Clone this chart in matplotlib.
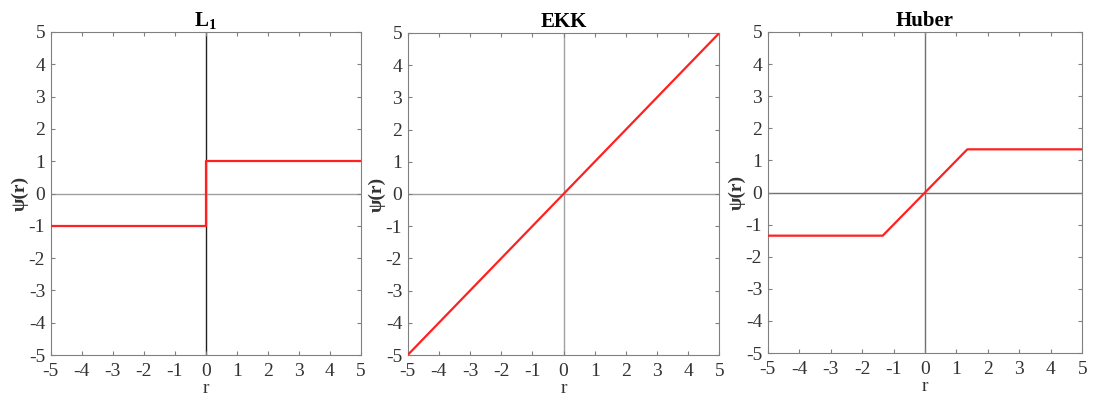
import numpy as np
import matplotlib.pyplot as plt

plt.rcParams['font.family'] = 'Liberation Serif'
plt.rcParams['mathtext.fontset'] = 'custom'
plt.rcParams['mathtext.rm'] = 'Liberation Serif'
plt.rcParams['mathtext.bf'] = 'Liberation Serif:bold'
plt.rcParams['axes.unicode_minus'] = False

# psi functions sampled at their break points
r_l1 = [-5, 0, 0, 5]
psi_l1 = [-1, -1, 1, 1]

r_ekk = [-5, 5]
psi_ekk = [-5, 5]

r_huber = [-5, -1.345, 1.345, 5]
psi_huber = [-1.345, -1.345, 1.345, 1.345]

titles = [r'$\mathbf{L_1}$', 'EKK', 'Huber']
series = [(r_l1, psi_l1), (r_ekk, psi_ekk), (r_huber, psi_huber)]
ticks = list(range(-5, 6))

# axes rectangles [left, bottom, width, height]
rects = [[0.0463, 0.1125, 0.2828, 0.8075],
         [0.372, 0.1125, 0.2843, 0.805],
         [0.7005, 0.1175, 0.287, 0.8025]]
zero_colors = [('#202020', '#a0a0a0'), ('#a0a0a0', '#a0a0a0'), ('#707070', '#707070')]

fig = plt.figure(figsize=(10.96, 4), dpi=100)
for i in range(3):
    ax = fig.add_axes(rects[i])
    vc, hc = zero_colors[i]
    ax.axvline(0, color=vc, lw=1, zorder=1)
    ax.axhline(0, color=hc, lw=1, zorder=1)
    ax.plot(series[i][0], series[i][1], color='#ff2020', lw=1.6, zorder=3)
    ax.set_xlim(-5, 5)
    ax.set_ylim(-5, 5)
    ax.set_xticks(ticks)
    ax.set_yticks(ticks)
    ax.tick_params(direction='in', top=True, right=True, length=3, labelsize=14,
                   colors='#808080', labelcolor='#333333', pad=4)
    ax.tick_params(axis='x', pad=6)
    for s in ax.spines.values():
        s.set_color('#808080')
    ax.set_title(titles[i], fontsize=15, fontweight='bold', pad=4)
    ax.set_xlabel('r', fontsize=14, labelpad=0, color='#333333')
    ax.set_ylabel('ψ(r)', fontsize=14, fontweight='bold', labelpad=0, color='#333333')

fig.savefig('out.png', dpi=100)
